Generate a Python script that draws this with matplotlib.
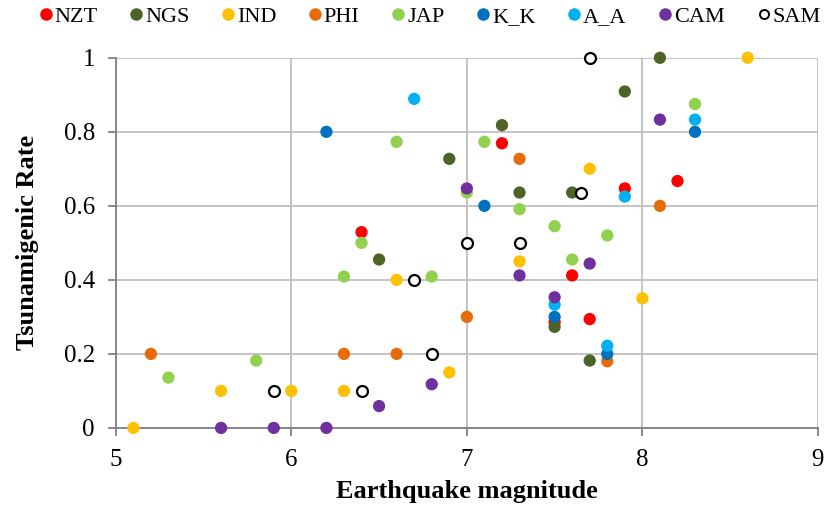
import matplotlib.pyplot as plt
from matplotlib.lines import Line2D

plt.rcParams["font.family"] = ["Liberation Serif", "DejaVu Serif"]

# ---- data (magnitude, tsunamigenic rate) ----
nzt_x = [6.4, 7.2, 7.5, 7.6, 7.7, 7.9, 8.2]
nzt_y = [0.529, 0.769, 0.286, 0.412, 0.294, 0.647, 0.667]

ngs_x = [6.5, 6.9, 7.2, 7.3, 7.5, 7.6, 7.7, 7.9, 8.1]
ngs_y = [0.455, 0.727, 0.818, 0.636, 0.273, 0.636, 0.182, 0.909, 1.0]

ind_x = [5.1, 5.6, 6.0, 6.3, 6.6, 6.9, 7.3, 7.7, 8.0, 8.6]
ind_y = [0.0, 0.1, 0.1, 0.1, 0.4, 0.15, 0.45, 0.7, 0.35, 1.0]

phi_x = [5.2, 6.3, 6.6, 7.0, 7.3, 7.8, 8.1]
phi_y = [0.2, 0.2, 0.2, 0.3, 0.727, 0.18, 0.6]

jap_x = [5.3, 5.8, 6.3, 6.4, 6.6, 6.8, 7.0, 7.1, 7.3, 7.5, 7.6, 7.8, 8.3]
jap_y = [0.136, 0.182, 0.409, 0.5, 0.773, 0.409, 0.636, 0.773, 0.591, 0.545, 0.455, 0.52, 0.875]

kk_x = [6.2, 7.1, 7.5, 7.8, 8.3]
kk_y = [0.8, 0.6, 0.3, 0.2, 0.8]

aa_x = [6.7, 7.5, 7.8, 7.9, 8.3]
aa_y = [0.889, 0.333, 0.222, 0.625, 0.833]

cam_x = [5.6, 5.9, 6.2, 6.5, 6.8, 7.0, 7.3, 7.5, 7.7, 8.1]
cam_y = [0.0, 0.0, 0.0, 0.059, 0.118, 0.647, 0.412, 0.353, 0.444, 0.833]

sam_x = [5.9, 6.4, 6.7, 6.8, 7.0, 7.3, 7.65, 7.7]
sam_y = [0.1, 0.1, 0.4, 0.2, 0.5, 0.5, 0.636, 1.0]

series = [
    ("NZT", nzt_x, nzt_y, "#FF0000"),
    ("NGS", ngs_x, ngs_y, "#4F6228"),
    ("IND", ind_x, ind_y, "#FFC000"),
    ("PHI", phi_x, phi_y, "#E46C0A"),
    ("JAP", jap_x, jap_y, "#92D050"),
    ("K_K", kk_x, kk_y, "#0070C0"),
    ("A_A", aa_x, aa_y, "#00B0F0"),
    ("CAM", cam_x, cam_y, "#7030A0"),
]

fig = plt.figure(figsize=(8.27, 5.07), dpi=100)
ax = fig.add_axes([0.140, 0.156, 0.849, 0.730])

for name, xs, ys, color in series:
    ax.scatter(xs, ys, s=78, color=color, edgecolors="none", zorder=3, clip_on=False)
ax.scatter(sam_x, sam_y, s=62, facecolors="white", edgecolors="black",
           linewidths=1.6, zorder=3, clip_on=False)

ax.set_xlim(5, 9)
ax.set_ylim(0, 1)
ax.set_xticks([5, 6, 7, 8, 9])
ax.set_yticks([0, 0.2, 0.4, 0.6, 0.8, 1])
ax.set_yticklabels(["0", "0.2", "0.4", "0.6", "0.8", "1"])
ax.grid(True, color="#BFBFBF", linewidth=1.3, zorder=0)
ax.set_axisbelow(True)
for side in ["top", "right"]:
    ax.spines[side].set_visible(False)
for side in ["left", "bottom"]:
    ax.spines[side].set_color("#808080")
    ax.spines[side].set_linewidth(1.3)
ax.tick_params(axis="both", labelsize=18, color="#808080", width=1.3, length=6)
ax.tick_params(axis="y", pad=9)
ax.tick_params(axis="x", pad=9)

ax.set_xlabel("Earthquake magnitude", fontsize=19, fontweight="bold", labelpad=7)
ax.set_ylabel("Tsunamigenic Rate", fontsize=19, fontweight="bold", labelpad=18)

# legend across the top
handles = [Line2D([], [], linestyle="none", marker="o", markersize=9,
                  markerfacecolor=c, markeredgecolor="none") for _, _, _, c in series]
handles.append(Line2D([], [], linestyle="none", marker="o", markersize=6.5,
                      markerfacecolor="white", markeredgecolor="black", markeredgewidth=1.4))
labels = [s[0] for s in series] + ["SAM"]
fig.legend(handles, labels, loc="upper center", bbox_to_anchor=(0.52, 1.027), ncol=9,
           frameon=False, fontsize=16, handlelength=0.55, handletextpad=0.12,
           columnspacing=1.47)

fig.savefig("out.png", dpi=100)
